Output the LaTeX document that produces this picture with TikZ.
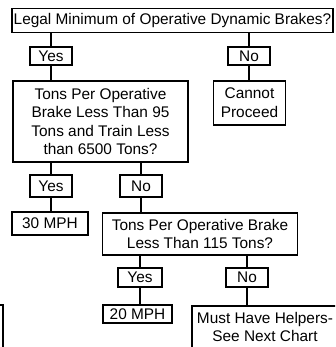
\documentclass[tikz,border=0pt]{standalone}
\usepackage{fontspec}
\setmainfont{Liberation Sans}
\begin{document}
\begin{tikzpicture}[x=1pt,y=-1pt,
  txt/.style={inner sep=0pt,align=center,font=\fontsize{15.4}{18.6}\selectfont},
  box/.style={txt,draw,line width=1.1pt},
  conn/.style={line width=1.1pt}]
\clip (0,0) rectangle (335,347);
\node[box,minimum width=321pt,minimum height=24pt] (top) at (172.5,20.5) {Legal Minimum of Operative Dynamic Brakes?};
\node[box,minimum width=42pt,minimum height=18pt] (yes1) at (51,56) {Yes};
\node[box,minimum width=42pt,minimum height=18pt] (no1) at (249,56) {No};
\node[box,minimum width=175pt,minimum height=81pt] (tons1) at (100.5,121.5) {Tons Per Operative\\Brake Less Than 95\\Tons and Train Less\\than 6500 Tons?};
\node[box,minimum width=72pt,minimum height=44pt] (cannot) at (249.5,103) {Cannot\\Proceed};
\node[box,minimum width=42pt,minimum height=22pt] (yes2) at (51,186) {Yes};
\node[box,minimum width=42pt,minimum height=22pt] (no2) at (141,186) {No};
\node[box,minimum width=76pt,minimum height=23pt] (mph30) at (50,223.5) {30 MPH};
\node[box,minimum width=195pt,minimum height=42pt] (tons2) at (200,234) {Tons Per Operative Brake\\Less Than 115 Tons?};
\node[box,minimum width=44pt,minimum height=19pt] (yes3) at (140,277.5) {Yes};
\node[box,minimum width=42pt,minimum height=19pt] (no3) at (247,277.5) {No};
\node[box,minimum width=69pt,minimum height=18pt] (mph20) at (137.5,314) {20 MPH};
\node[txt] (must) at (265,327) {Must Have Helpers-\\See Next Chart};
\coordinate (m1) at (192,352);
\coordinate (m2) at (192,306);
\coordinate (m3) at (340,306);
\draw[conn] (m1) -- (m2) -- (m3);
\draw[conn] (yes1.north |- top.south) -- (yes1.north);
\draw[conn] (no1.north |- top.south) -- (no1.north);
\draw[conn] (yes1.south) -- (yes1.south |- tons1.north);
\draw[conn] (no1.south) -- (no1.south |- cannot.north);
\draw[conn] (yes2.north |- tons1.south) -- (yes2.north);
\draw[conn] (no2.north |- tons1.south) -- (no2.north);
\draw[conn] (yes2.south) -- (yes2.south |- mph30.north);
\draw[conn] (no2.south) -- (no2.south |- tons2.north);
\draw[conn] (yes3.north |- tons2.south) -- (yes3.north);
\draw[conn] (no3.north |- tons2.south) -- (no3.north);
\draw[conn] (yes3.south) -- (yes3.south |- mph20.north);
\draw[conn] (no3.south) -- (no3.south |- m2);
\coordinate (s1) at (-5,305);
\coordinate (s2) at (3,305);
\coordinate (s3) at (3,350);
\draw[conn] (s1) -- (s2) -- (s3);
\end{tikzpicture}
\end{document}
